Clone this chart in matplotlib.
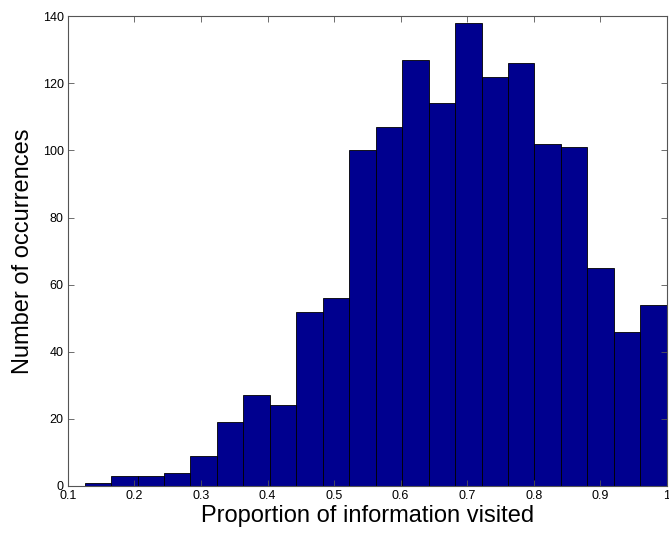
import numpy as np
import matplotlib
matplotlib.use("Agg")
import matplotlib.pyplot as plt

# histogram counts, 22 equal bins from 0.125 to 1.0
bin_start = 0.125
bin_stop = 1.0
counts = [1, 3, 3, 4, 9, 19, 27, 24, 52, 56, 100,
          107, 127, 114, 138, 122, 126, 102, 101, 65, 46, 54]
xticks = [0.1, 0.2, 0.3, 0.4, 0.5, 0.6, 0.7, 0.8, 0.9, 1.0]
xtick_labels = ["0.1", "0.2", "0.3", "0.4", "0.5", "0.6", "0.7", "0.8", "0.9", "1"]
yticks = [0, 20, 40, 60, 80, 100, 120, 140]

plt.rcParams["font.family"] = ["Liberation Sans", "DejaVu Sans"]

edges = np.linspace(bin_start, bin_stop, len(counts) + 1)

fig = plt.figure(figsize=(6.69, 5.40), dpi=100)
ax = fig.add_axes([0.1016, 0.1, 0.895, 0.870])
ax.bar(edges[:-1], counts, width=np.diff(edges), align="edge",
       color="#00008f", edgecolor="#000000", linewidth=0.6)

ax.set_xlim(0.1, 1.0)
ax.set_ylim(0, 140)
ax.set_xticks(xticks)
ax.set_xticklabels(xtick_labels)
ax.set_yticks(yticks)
ax.tick_params(direction="in", top=True, right=True, labelsize=9,
               length=4, width=0.6, color="#555555", pad=3)
for s in ax.spines.values():
    s.set_color("#555555")
    s.set_linewidth(0.8)

ax.set_xlabel("Proportion of information visited", fontsize=17, labelpad=2)
ax.set_ylabel("Number of occurrences", fontsize=17, labelpad=6)

fig.savefig("out.png", dpi=100)
